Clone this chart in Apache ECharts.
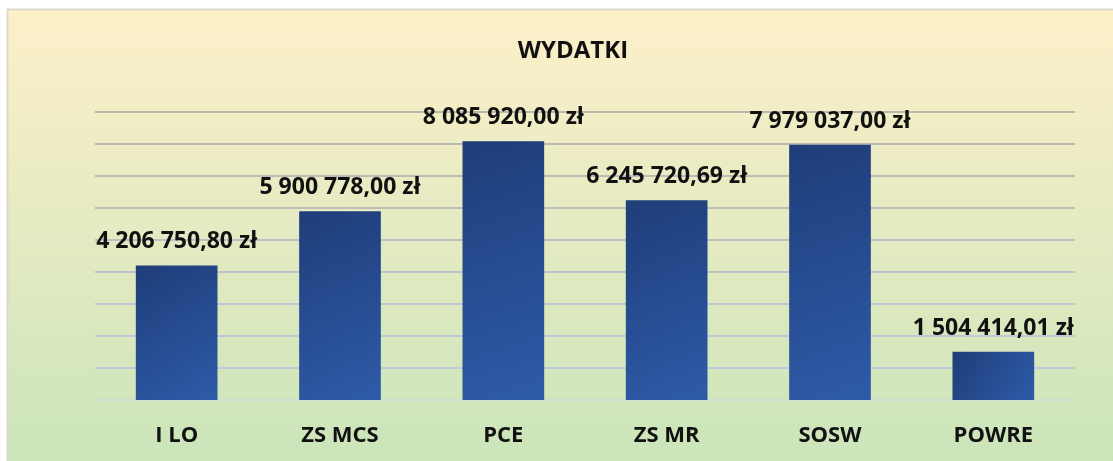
<!DOCTYPE html>
<html>
<head>
<meta charset="utf-8">
<script src="https://cdn.jsdelivr.net/npm/echarts@6/dist/echarts.min.js"></script>
<style>
  html, body { margin: 0; padding: 0; background: #fff; }
  #chart { width: 1113px; height: 461px; }
</style>
</head>
<body>
<div id="chart"></div>
<script>
// dane wykresu
const categories = ['I LO', 'ZS MCS', 'PCE', 'ZS MR', 'SOSW', 'POWRE'];
const values = [4206750.80, 5900778.00, 8085920.00, 6245720.69, 7979037.00, 1504414.01];

function formatZl(v) {
  const parts = v.toFixed(2).split('.');
  const intPart = parts[0].replace(/\B(?=(\d{3})+(?!\d))/g, ' ');
  return intPart + ',' + parts[1] + ' zł';
}

const chart = echarts.init(document.getElementById('chart'));

const option = {
  backgroundColor: '#ffffff',
  graphic: [
    {
      type: 'rect',
      z: -10,
      silent: true,
      shape: { x: 7.5, y: 9.5, width: 1120, height: 470 },
      style: {
        fill: new echarts.graphic.LinearGradient(0, 0, 0, 1, [
          { offset: 0, color: '#fdf0c9' },
          { offset: 1, color: '#c9e4b9' }
        ]),
        stroke: '#ddd8cc',
        lineWidth: 2
      }
    }
  ],
  title: {
    text: 'WYDATKI',
    left: 568,
    textAlign: 'center',
    top: 34,
    textStyle: {
      fontFamily: 'Open Sans',
      fontWeight: 'bold',
      fontSize: 24,
      color: '#111'
    }
  },
  grid: { left: 95, right: 38, top: 112, bottom: 61 },
  xAxis: {
    type: 'category',
    data: categories,
    axisTick: { show: false },
    axisLine: { lineStyle: { color: '#d6d8d2', width: 2 } },
    axisLabel: {
      margin: 25,
      fontFamily: 'Open Sans',
      fontWeight: 'bold',
      fontSize: 22,
      color: '#111'
    }
  },
  yAxis: {
    type: 'value',
    min: 0,
    max: 9000000,
    interval: 1000000,
    axisLabel: { show: false },
    axisLine: { show: false },
    axisTick: { show: false },
    splitLine: {
      lineStyle: {
        width: 2,
        color: new echarts.graphic.LinearGradient(0, 112, 0, 400, [
          { offset: 0, color: '#bab7ab' },
          { offset: 1, color: '#bfcde3' }
        ], true)
      }
    }
  },
  series: [
    {
      type: 'bar',
      data: values,
      barWidth: '50%',
      itemStyle: {
        color: new echarts.graphic.LinearGradient(0, 0, 1, 1, [
          { offset: 0, color: '#1f3d79' },
          { offset: 1, color: '#2e5ba8' }
        ])
      },
      label: {
        show: true,
        position: 'top',
        distance: 12,
        fontFamily: 'Open Sans',
        fontWeight: 'bold',
        fontSize: 23,
        color: '#111',
        formatter: p => formatZl(p.value)
      }
    }
  ]
};

chart.setOption(option);
</script>
</body>
</html>
